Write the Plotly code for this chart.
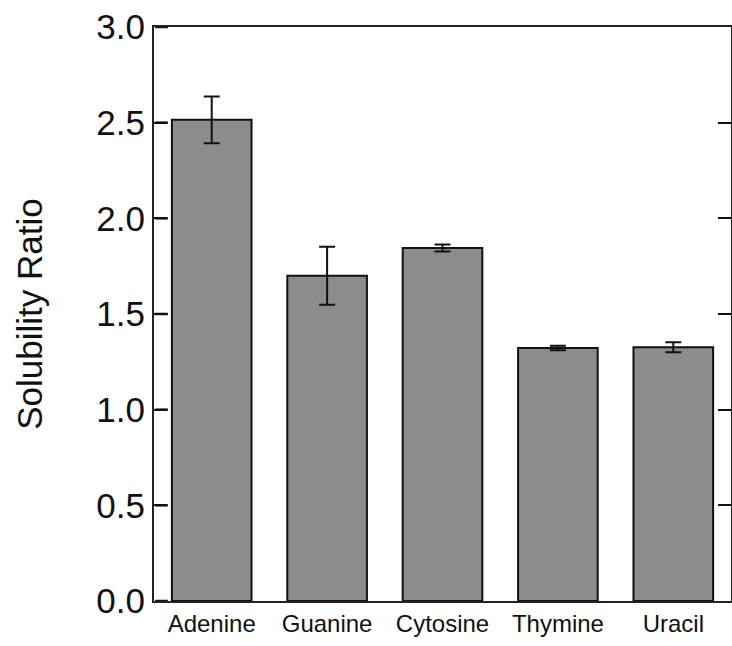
import plotly.graph_objects as go

categories = ["Adenine", "Guanine", "Cytosine", "Thymine", "Uracil"]
values = [2.515, 1.70, 1.845, 1.322, 1.326]
errors = [0.122, 0.152, 0.018, 0.012, 0.026]
y_ticks = [0.0, 0.5, 1.0, 1.5, 2.0, 2.5, 3.0]
y_tick_labels = ["0.0", "0.5", "1.0", "1.5", "2.0", "2.5", "3.0"]

fig = go.Figure()
fig.add_trace(go.Bar(
    x=categories, y=values,
    width=0.69,
    marker=dict(color="#8c8c8c", line=dict(color="#111111", width=2)),
    error_y=dict(type="data", array=errors, visible=True,
                 color="#111111", thickness=2, width=8),
))

# inward tick marks on the left axis, drawn as shapes at the tick values
shapes = [
    dict(type="line", xref="paper", yref="y",
         x0=0.002, x1=0.024, y0=t, y1=t,
         line=dict(color="#111111", width=2.5), layer="above")
    for t in y_ticks
]

fig.update_layout(
    width=732, height=646,
    margin=dict(l=154, r=1, t=27, b=45, autoexpand=False),
    paper_bgcolor="white", plot_bgcolor="white",
    showlegend=False,
    shapes=shapes,
    font=dict(family="Liberation Sans, Arial, sans-serif", color="#111111"),
)
fig.update_xaxes(
    showline=True, linecolor="#222222", linewidth=2, mirror=True,
    ticks="", showgrid=False, automargin=False,
    tickfont=dict(size=24),
    range=[-0.5, 4.5],
)
fig.update_yaxes(
    range=[0, 3.0], automargin=False,
    tickmode="array", tickvals=y_ticks, ticktext=y_tick_labels,
    showline=True, linecolor="#222222", linewidth=2, mirror="allticks",
    ticks="inside", ticklen=13, tickwidth=2, tickcolor="#111111",
    ticklabeloverflow="allow",
    showgrid=False, zeroline=False,
    tickfont=dict(size=35),
    title=dict(text="Solubility Ratio", font=dict(size=35), standoff=43),
)

fig.write_html(
    "out.html",
    config={"displayModeBar": False},
    post_script="document.body.style.margin='0px';document.body.style.overflow='hidden';document.documentElement.style.overflow='hidden';",
)
